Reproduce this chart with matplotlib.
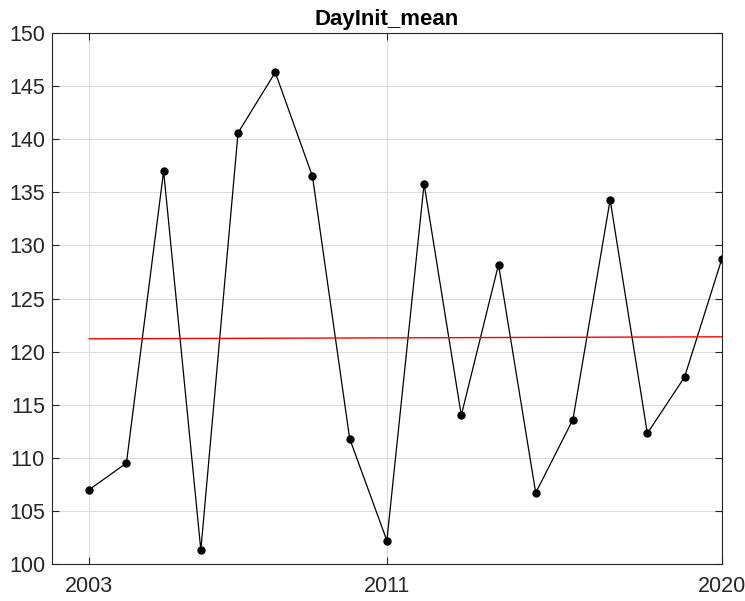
import numpy as np
import matplotlib.pyplot as plt

plt.rcParams['font.family'] = ['Liberation Sans', 'DejaVu Sans']

years = np.arange(2003, 2021)
day_init = [107.0, 109.5, 137.0, 101.3, 140.6, 146.3, 136.5, 111.8, 102.2,
            135.8, 114.0, 128.2, 106.7, 113.6, 134.3, 112.3, 117.6, 128.7]
xticks = [2003, 2011, 2020]
yticks = np.arange(100, 151, 5)

# linear trend
p = np.polyfit(years, day_init, 1)
trend = np.polyval(p, years)

fig = plt.figure(figsize=(7.45, 6.01), dpi=100)
ax = fig.add_axes([0.0698, 0.0616, 0.899, 0.8834])

ax.plot(years, day_init, color='black', lw=0.9, marker='o', ms=5)
ax.plot(years, trend, color='red', lw=1.0)

ax.set_xlim(2002, 2020)
ax.set_ylim(100, 150)
ax.set_xticks(xticks)
ax.set_yticks(yticks)
ax.grid(True, color='#dddddd', lw=0.8)
ax.set_axisbelow(True)
ax.tick_params(direction='in', labelsize=15.5, colors='#262626', length=5,
               top=True, right=True)
ax.tick_params(axis='x', pad=9)
ax.tick_params(axis='y', pad=5)
for s in ax.spines.values():
    s.set_color('#262626')
    s.set_linewidth(0.8)
ax.set_title('DayInit_mean', fontsize=16, fontweight='bold', pad=6)

fig.savefig('out.png', dpi=100)
